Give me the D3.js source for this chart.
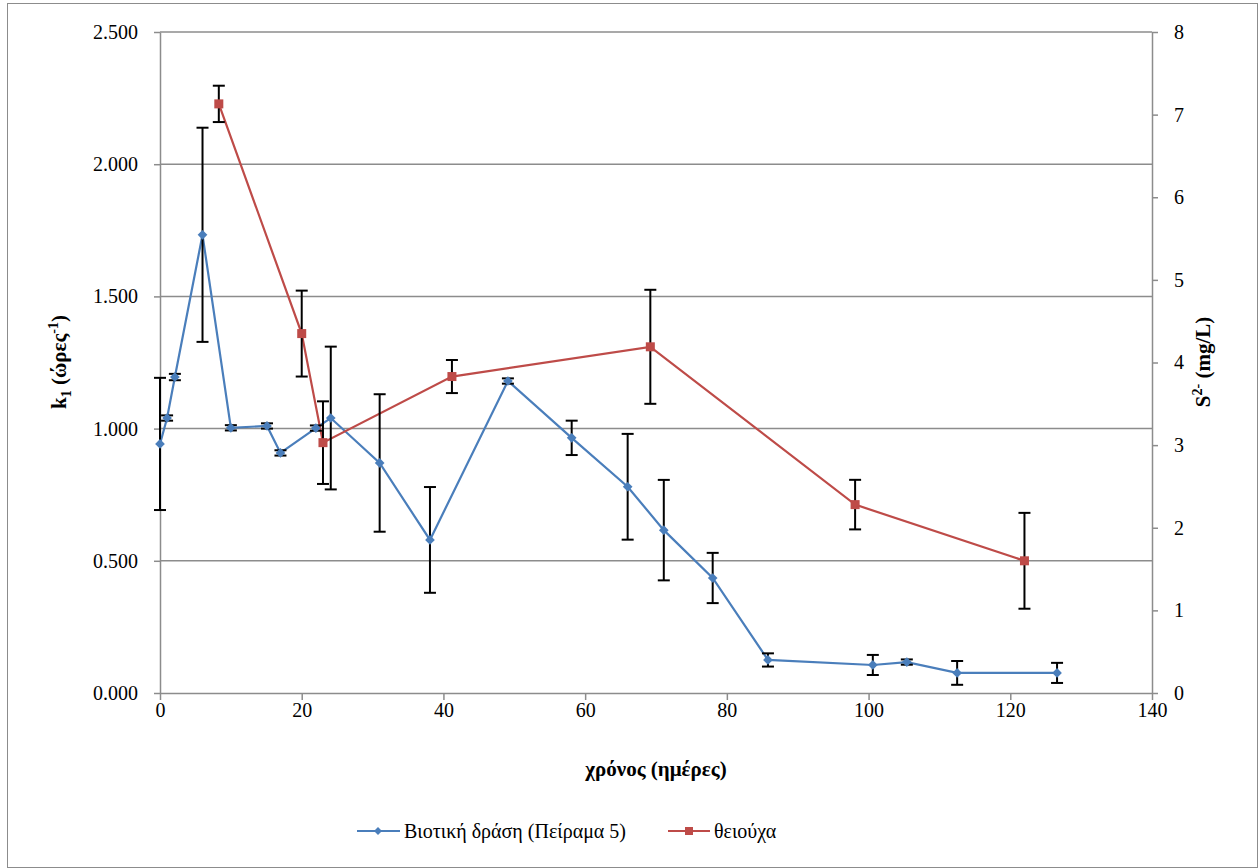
<!DOCTYPE html>
<html>
<head>
<meta charset="utf-8">
<script src="https://cdn.jsdelivr.net/npm/d3@7"></script>
<style>
  body { margin: 0; background: #fff; }
  svg text, svg tspan { font-family: 'Liberation Serif', serif !important; }
</style>
</head>
<body>
<svg id="chart" width="1258" height="868" font-family="Liberation Serif"></svg>
<script>
// blue series: Βιοτική δράση (Πείραμα 5), left axis
const bioDays = [0, 1, 2.1, 6, 10, 15.1, 17, 22, 24.1, 31, 38.1, 49.1, 58.1, 66, 71.1, 78, 85.8, 100.6, 105.4, 112.5, 126.6];
const bioK = [0.942, 1.04, 1.195, 1.733, 1.003, 1.01, 0.908, 1.002, 1.04, 0.87, 0.579, 1.18, 0.965, 0.78, 0.616, 0.435, 0.125, 0.106, 0.117, 0.076, 0.076];
const bioErr = [0.25, 0.01, 0.012, 0.405, 0.01, 0.01, 0.01, 0.01, 0.27, 0.26, 0.2, 0.01, 0.065, 0.2, 0.19, 0.095, 0.025, 0.038, 0.01, 0.045, 0.038];

// red series: θειούχα, right axis
const sulDays = [8.3, 20, 23, 41.2, 69.2, 98.1, 122];
const sulS = [7.13, 4.35, 3.03, 3.83, 4.19, 2.28, 1.6];
const sulErr = [0.22, 0.52, 0.5, 0.2, 0.69, 0.3, 0.58];

const xTicks = [0, 20, 40, 60, 80, 100, 120, 140];
const leftTicks = [0, 0.5, 1, 1.5, 2, 2.5];
const rightTicks = [0, 1, 2, 3, 4, 5, 6, 7, 8];

const bioColor = '#4a7ebb';
const sulColor = '#be4b48';
const FONT = 'Liberation Serif';

const margin = {top: 32, right: 106, bottom: 175, left: 160};
const W = 1258, H = 868;
const width = W - margin.left - margin.right;
const height = H - margin.top - margin.bottom;

const svg = d3.select('#chart');

// outer frame
svg.append('rect')
    .attr('x', 7.5).attr('y', 3.5)
    .attr('width', W - 8).attr('height', H - 4)
    .attr('fill', 'none')
    .attr('stroke', '#8c8c8c')
    .attr('stroke-width', 1);

const chart = svg.append('g')
    .attr('transform', `translate(${margin.left},${margin.top})`);

const x = d3.scaleLinear().domain([0, 140]).range([0, width]);
const yL = d3.scaleLinear().domain([0, 2.5]).range([height, 0]);
const yR = d3.scaleLinear().domain([0, 8]).range([height, 0]);

// gridlines
chart.append('g')
    .selectAll('line')
    .data(leftTicks.slice(1))
    .join('line')
    .attr('x1', 0).attr('x2', width)
    .attr('y1', d => yL(d)).attr('y2', d => yL(d))
    .attr('stroke', '#8c8c8c')
    .attr('stroke-width', 1.5);

// axes
const styleAxis = g => {
  g.attr('font-family', FONT).attr('font-size', 20);
  g.select('.domain').attr('stroke', '#8c8c8c').attr('stroke-width', 1.5);
  g.selectAll('.tick line').attr('stroke', '#8c8c8c').attr('stroke-width', 1.5);
  g.selectAll('.tick text').attr('fill', '#000');
};

chart.append('g')
    .attr('transform', `translate(0,${height})`)
    .call(d3.axisBottom(x).tickValues(xTicks).tickSize(7).tickPadding(3).tickSizeOuter(0))
    .call(styleAxis);

chart.append('g')
    .call(d3.axisLeft(yL).tickValues(leftTicks).tickFormat(d3.format('.3f')).tickSize(6).tickPadding(16).tickSizeOuter(0))
    .call(styleAxis);

chart.append('g')
    .attr('transform', `translate(${width},0)`)
    .call(d3.axisRight(yR).tickValues(rightTicks).tickSize(6).tickPadding(16).tickSizeOuter(0))
    .call(styleAxis);

// axis titles
svg.append('text')
    .attr('x', margin.left + width / 2)
    .attr('y', 776)
    .attr('text-anchor', 'middle')
    .attr('font-family', FONT)
    .attr('font-size', 21)
    .attr('font-weight', 'bold')
    .text('χρόνος (ημέρες)');

const leftTitle = svg.append('text')
    .attr('transform', 'translate(66,362) rotate(-90)')
    .attr('text-anchor', 'middle')
    .attr('font-family', FONT)
    .attr('font-size', 21)
    .attr('font-weight', 'bold');
leftTitle.append('tspan').text('k');
leftTitle.append('tspan').attr('dy', 5).attr('font-size', 14).text('1');
leftTitle.append('tspan').attr('dy', -5).text(' (ώρες');
leftTitle.append('tspan').attr('dy', -8).attr('font-size', 14).text('-1');
leftTitle.append('tspan').attr('dy', 8).text(')');

const rightTitle = svg.append('text')
    .attr('transform', 'translate(1210,362) rotate(-90)')
    .attr('text-anchor', 'middle')
    .attr('font-family', FONT)
    .attr('font-size', 21)
    .attr('font-weight', 'bold');
rightTitle.append('tspan').text('S');
rightTitle.append('tspan').attr('dy', -8).attr('font-size', 14).text('2-');
rightTitle.append('tspan').attr('dy', 8).text(' (mg/L)');

// series data
const bio = bioDays.map((d, i) => ({x: d, y: bioK[i], e: bioErr[i]}));
const sul = sulDays.map((d, i) => ({x: d, y: sulS[i], e: sulErr[i]}));

function drawErrors(data, yScale) {
  const g = chart.append('g');
  data.forEach(d => {
    const cx = x(d.x), y1 = yScale(d.y + d.e), y2 = yScale(d.y - d.e);
    g.append('line').attr('x1', cx).attr('x2', cx).attr('y1', y1).attr('y2', y2)
        .attr('stroke', '#000').attr('stroke-width', 2);
    [y1, y2].forEach(yy => {
      g.append('line').attr('x1', cx - 6).attr('x2', cx + 6).attr('y1', yy).attr('y2', yy)
          .attr('stroke', '#000').attr('stroke-width', 2);
    });
  });
}

function drawLine(data, yScale, color) {
  chart.append('path')
      .datum(data)
      .attr('fill', 'none')
      .attr('stroke', color)
      .attr('stroke-width', 2.2)
      .attr('d', d3.line().x(d => x(d.x)).y(d => yScale(d.y)));
}

drawLine(bio, yL, bioColor);
drawLine(sul, yR, sulColor);
drawErrors(bio, yL);
drawErrors(sul, yR);

// markers
chart.append('g')
    .selectAll('path')
    .data(bio)
    .join('path')
    .attr('transform', d => `translate(${x(d.x)},${yL(d.y)})`)
    .attr('d', d3.symbol(d3.symbolDiamond2, 60))
    .attr('fill', bioColor);

chart.append('g')
    .selectAll('rect')
    .data(sul)
    .join('rect')
    .attr('x', d => x(d.x) - 4.5)
    .attr('y', d => yR(d.y) - 4.5)
    .attr('width', 9).attr('height', 9)
    .attr('fill', sulColor);

// legend
const legend = svg.append('g').attr('transform', 'translate(0,831)');
legend.append('line').attr('x1', 357).attr('x2', 400).attr('y1', 0).attr('y2', 0)
    .attr('stroke', bioColor).attr('stroke-width', 2.2);
legend.append('path').attr('transform', 'translate(378,0)')
    .attr('d', d3.symbol(d3.symbolDiamond2, 40)).attr('fill', bioColor);
legend.append('text').attr('x', 404).attr('y', 7)
    .attr('font-family', FONT).attr('font-size', 20)
    .text('Βιοτική δράση (Πείραμα 5)');

legend.append('line').attr('x1', 668).attr('x2', 710).attr('y1', 0).attr('y2', 0)
    .attr('stroke', sulColor).attr('stroke-width', 2.2);
legend.append('rect').attr('x', 685).attr('y', -4).attr('width', 8).attr('height', 8)
    .attr('fill', sulColor);
legend.append('text').attr('x', 714).attr('y', 7)
    .attr('font-family', FONT).attr('font-size', 20)
    .text('θειούχα');
</script>
</body>
</html>
